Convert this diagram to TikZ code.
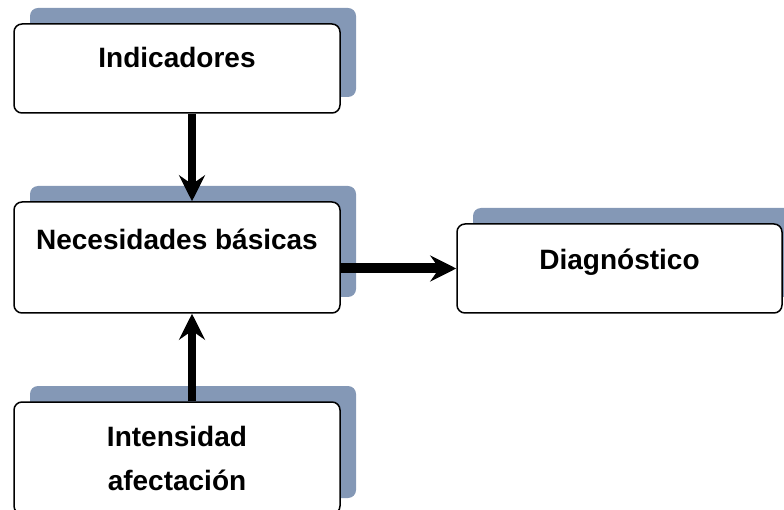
\documentclass[tikz,border=0pt]{standalone}
\usepackage{fontspec}
\usetikzlibrary{arrows.meta,shadows}
\newfontfamily\boxfont{Liberation Sans}

\definecolor{shadowblue}{RGB}{132,152,182}

\tikzset{
  box/.style={draw, line width=1.5pt, rounded corners=8pt, fill=white,
    minimum width=326pt, minimum height=89pt, inner sep=0pt,
    font=\boxfont\fontsize{28}{30}\selectfont\bfseries,
    text height=18pt, text depth=19pt,
    drop shadow={shadow xshift=16pt, shadow yshift=16pt,
      fill=shadowblue, opacity=1}},
  flow/.style={line width=8pt, -{Stealth[length=26pt,width=26pt,inset=9pt]}}
}

\begin{document}
\begin{tikzpicture}[x=1pt,y=-1pt]
  \useasboundingbox (0,0) rectangle (784,510);

  \node[box] (ind) at (177,68.5) {Indicadores};
  \node[box, minimum height=111pt, text depth=33pt] (nec) at (177,257.5) {Necesidades básicas};
  \node[box, minimum width=325pt, text depth=15pt] (diag) at (619.5,268.5) {Diagnóstico};
  \node[box, minimum height=112pt, align=center, text height=, text depth=]
    (int) at (177,458) {Intensidad\\[14pt]afectación};

  % connectors
  \draw[flow] ([xshift=15pt]ind.south) -- ([xshift=15pt]ind.south |- nec.north);
  \draw[flow] ([xshift=15pt]int.north) -- ([xshift=15pt]int.north |- nec.south);
  \draw[flow, line width=10pt] (nec.east |- diag.west) -- (diag.west);
\end{tikzpicture}
\end{document}
